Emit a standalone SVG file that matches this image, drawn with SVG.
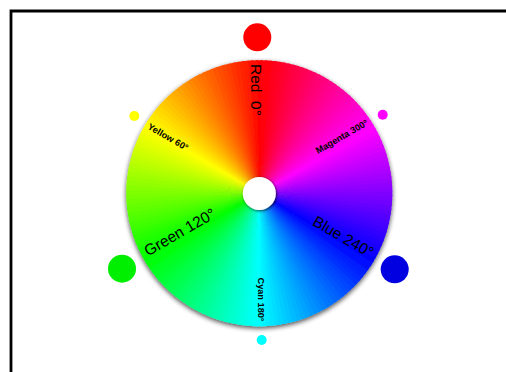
<svg xmlns="http://www.w3.org/2000/svg" width="506" height="372" viewBox="0 0 506 372">
<style>
.lbl{font-family:"Liberation Sans",Arial,sans-serif;fill:#000;white-space:pre}
.big{font-size:15.5px}
.sm{font-size:9.2px;font-weight:bold}
</style>
<defs>
<path id="w" d="M0 0L-3.25 -132.96A133 133 0 0 1 3.25 -132.96Z"/>
<filter id="sh" x="-10%" y="-10%" width="120%" height="125%">
<feGaussianBlur in="SourceAlpha" stdDeviation="2.5"/>
<feOffset dy="1.5"/>
<feComponentTransfer><feFuncA type="linear" slope="0.7"/></feComponentTransfer>
<feMerge><feMergeNode/><feMergeNode in="SourceGraphic"/></feMerge>
</filter>
<filter id="sh2" x="-30%" y="-30%" width="160%" height="160%">
<feGaussianBlur in="SourceAlpha" stdDeviation="1.5"/>
<feOffset dx="0.5" dy="1"/>
<feComponentTransfer><feFuncA type="linear" slope="0.7"/></feComponentTransfer>
<feMerge><feMergeNode/><feMergeNode in="SourceGraphic"/></feMerge>
</filter>
</defs>
<rect x="0" y="0" width="506" height="372" fill="#fff"/>
<path id="frame" d="M11 400V11H540" fill="none" stroke="#000" stroke-width="2.8"/>
<g id="wheel" filter="url(#sh)">
<g transform="translate(259.3,193.2)">
<use href="#w" transform="rotate(0)" fill="#ff0000"/>
<use href="#w" transform="rotate(-2)" fill="#ff0900"/>
<use href="#w" transform="rotate(-4)" fill="#ff1100"/>
<use href="#w" transform="rotate(-6)" fill="#ff1a00"/>
<use href="#w" transform="rotate(-8)" fill="#ff2200"/>
<use href="#w" transform="rotate(-10)" fill="#ff2b00"/>
<use href="#w" transform="rotate(-12)" fill="#ff3300"/>
<use href="#w" transform="rotate(-14)" fill="#ff3c00"/>
<use href="#w" transform="rotate(-16)" fill="#ff4400"/>
<use href="#w" transform="rotate(-18)" fill="#ff4d00"/>
<use href="#w" transform="rotate(-20)" fill="#ff5500"/>
<use href="#w" transform="rotate(-22)" fill="#ff5e00"/>
<use href="#w" transform="rotate(-24)" fill="#ff6600"/>
<use href="#w" transform="rotate(-26)" fill="#ff6f00"/>
<use href="#w" transform="rotate(-28)" fill="#ff7700"/>
<use href="#w" transform="rotate(-30)" fill="#ff8000"/>
<use href="#w" transform="rotate(-32)" fill="#ff8800"/>
<use href="#w" transform="rotate(-34)" fill="#ff9100"/>
<use href="#w" transform="rotate(-36)" fill="#ff9900"/>
<use href="#w" transform="rotate(-38)" fill="#ffa200"/>
<use href="#w" transform="rotate(-40)" fill="#ffaa00"/>
<use href="#w" transform="rotate(-42)" fill="#ffb300"/>
<use href="#w" transform="rotate(-44)" fill="#ffbb00"/>
<use href="#w" transform="rotate(-46)" fill="#ffc400"/>
<use href="#w" transform="rotate(-48)" fill="#ffcc00"/>
<use href="#w" transform="rotate(-50)" fill="#ffd500"/>
<use href="#w" transform="rotate(-52)" fill="#ffdd00"/>
<use href="#w" transform="rotate(-54)" fill="#ffe600"/>
<use href="#w" transform="rotate(-56)" fill="#ffee00"/>
<use href="#w" transform="rotate(-58)" fill="#fff700"/>
<use href="#w" transform="rotate(-60)" fill="#ffff00"/>
<use href="#w" transform="rotate(-62)" fill="#f7ff00"/>
<use href="#w" transform="rotate(-64)" fill="#eeff00"/>
<use href="#w" transform="rotate(-66)" fill="#e6ff00"/>
<use href="#w" transform="rotate(-68)" fill="#ddff00"/>
<use href="#w" transform="rotate(-70)" fill="#d5ff00"/>
<use href="#w" transform="rotate(-72)" fill="#ccff00"/>
<use href="#w" transform="rotate(-74)" fill="#c4ff00"/>
<use href="#w" transform="rotate(-76)" fill="#bbff00"/>
<use href="#w" transform="rotate(-78)" fill="#b3ff00"/>
<use href="#w" transform="rotate(-80)" fill="#aaff00"/>
<use href="#w" transform="rotate(-82)" fill="#a2ff00"/>
<use href="#w" transform="rotate(-84)" fill="#99ff00"/>
<use href="#w" transform="rotate(-86)" fill="#91ff00"/>
<use href="#w" transform="rotate(-88)" fill="#88ff00"/>
<use href="#w" transform="rotate(-90)" fill="#80ff00"/>
<use href="#w" transform="rotate(-92)" fill="#77ff00"/>
<use href="#w" transform="rotate(-94)" fill="#6fff00"/>
<use href="#w" transform="rotate(-96)" fill="#66ff00"/>
<use href="#w" transform="rotate(-98)" fill="#5eff00"/>
<use href="#w" transform="rotate(-100)" fill="#55ff00"/>
<use href="#w" transform="rotate(-102)" fill="#4dff00"/>
<use href="#w" transform="rotate(-104)" fill="#44ff00"/>
<use href="#w" transform="rotate(-106)" fill="#3cff00"/>
<use href="#w" transform="rotate(-108)" fill="#33ff00"/>
<use href="#w" transform="rotate(-110)" fill="#2bff00"/>
<use href="#w" transform="rotate(-112)" fill="#22ff00"/>
<use href="#w" transform="rotate(-114)" fill="#1aff00"/>
<use href="#w" transform="rotate(-116)" fill="#11ff00"/>
<use href="#w" transform="rotate(-118)" fill="#09ff00"/>
<use href="#w" transform="rotate(-120)" fill="#00ff00"/>
<use href="#w" transform="rotate(-122)" fill="#00ff09"/>
<use href="#w" transform="rotate(-124)" fill="#00ff11"/>
<use href="#w" transform="rotate(-126)" fill="#00ff1a"/>
<use href="#w" transform="rotate(-128)" fill="#00ff22"/>
<use href="#w" transform="rotate(-130)" fill="#00ff2b"/>
<use href="#w" transform="rotate(-132)" fill="#00ff33"/>
<use href="#w" transform="rotate(-134)" fill="#00ff3c"/>
<use href="#w" transform="rotate(-136)" fill="#00ff44"/>
<use href="#w" transform="rotate(-138)" fill="#00ff4d"/>
<use href="#w" transform="rotate(-140)" fill="#00ff55"/>
<use href="#w" transform="rotate(-142)" fill="#00ff5e"/>
<use href="#w" transform="rotate(-144)" fill="#00ff66"/>
<use href="#w" transform="rotate(-146)" fill="#00ff6f"/>
<use href="#w" transform="rotate(-148)" fill="#00ff77"/>
<use href="#w" transform="rotate(-150)" fill="#00ff80"/>
<use href="#w" transform="rotate(-152)" fill="#00ff88"/>
<use href="#w" transform="rotate(-154)" fill="#00ff91"/>
<use href="#w" transform="rotate(-156)" fill="#00ff99"/>
<use href="#w" transform="rotate(-158)" fill="#00ffa2"/>
<use href="#w" transform="rotate(-160)" fill="#00ffaa"/>
<use href="#w" transform="rotate(-162)" fill="#00ffb3"/>
<use href="#w" transform="rotate(-164)" fill="#00ffbb"/>
<use href="#w" transform="rotate(-166)" fill="#00ffc4"/>
<use href="#w" transform="rotate(-168)" fill="#00ffcc"/>
<use href="#w" transform="rotate(-170)" fill="#00ffd5"/>
<use href="#w" transform="rotate(-172)" fill="#00ffdd"/>
<use href="#w" transform="rotate(-174)" fill="#00ffe6"/>
<use href="#w" transform="rotate(-176)" fill="#00ffee"/>
<use href="#w" transform="rotate(-178)" fill="#00fff7"/>
<use href="#w" transform="rotate(-180)" fill="#00ffff"/>
<use href="#w" transform="rotate(-182)" fill="#00f7ff"/>
<use href="#w" transform="rotate(-184)" fill="#00eeff"/>
<use href="#w" transform="rotate(-186)" fill="#00e6ff"/>
<use href="#w" transform="rotate(-188)" fill="#00ddff"/>
<use href="#w" transform="rotate(-190)" fill="#00d5ff"/>
<use href="#w" transform="rotate(-192)" fill="#00ccff"/>
<use href="#w" transform="rotate(-194)" fill="#00c4ff"/>
<use href="#w" transform="rotate(-196)" fill="#00bbff"/>
<use href="#w" transform="rotate(-198)" fill="#00b3ff"/>
<use href="#w" transform="rotate(-200)" fill="#00aaff"/>
<use href="#w" transform="rotate(-202)" fill="#00a2ff"/>
<use href="#w" transform="rotate(-204)" fill="#0099ff"/>
<use href="#w" transform="rotate(-206)" fill="#0091ff"/>
<use href="#w" transform="rotate(-208)" fill="#0088ff"/>
<use href="#w" transform="rotate(-210)" fill="#0080ff"/>
<use href="#w" transform="rotate(-212)" fill="#0077ff"/>
<use href="#w" transform="rotate(-214)" fill="#006fff"/>
<use href="#w" transform="rotate(-216)" fill="#0066ff"/>
<use href="#w" transform="rotate(-218)" fill="#005eff"/>
<use href="#w" transform="rotate(-220)" fill="#0055ff"/>
<use href="#w" transform="rotate(-222)" fill="#004dff"/>
<use href="#w" transform="rotate(-224)" fill="#0044ff"/>
<use href="#w" transform="rotate(-226)" fill="#003cff"/>
<use href="#w" transform="rotate(-228)" fill="#0033ff"/>
<use href="#w" transform="rotate(-230)" fill="#002bff"/>
<use href="#w" transform="rotate(-232)" fill="#0022ff"/>
<use href="#w" transform="rotate(-234)" fill="#001aff"/>
<use href="#w" transform="rotate(-236)" fill="#0011ff"/>
<use href="#w" transform="rotate(-238)" fill="#0009ff"/>
<use href="#w" transform="rotate(-240)" fill="#0000ff"/>
<use href="#w" transform="rotate(-242)" fill="#0900ff"/>
<use href="#w" transform="rotate(-244)" fill="#1100ff"/>
<use href="#w" transform="rotate(-246)" fill="#1a00ff"/>
<use href="#w" transform="rotate(-248)" fill="#2200ff"/>
<use href="#w" transform="rotate(-250)" fill="#2b00ff"/>
<use href="#w" transform="rotate(-252)" fill="#3300ff"/>
<use href="#w" transform="rotate(-254)" fill="#3c00ff"/>
<use href="#w" transform="rotate(-256)" fill="#4400ff"/>
<use href="#w" transform="rotate(-258)" fill="#4d00ff"/>
<use href="#w" transform="rotate(-260)" fill="#5500ff"/>
<use href="#w" transform="rotate(-262)" fill="#5e00ff"/>
<use href="#w" transform="rotate(-264)" fill="#6600ff"/>
<use href="#w" transform="rotate(-266)" fill="#6f00ff"/>
<use href="#w" transform="rotate(-268)" fill="#7700ff"/>
<use href="#w" transform="rotate(-270)" fill="#8000ff"/>
<use href="#w" transform="rotate(-272)" fill="#8800ff"/>
<use href="#w" transform="rotate(-274)" fill="#9100ff"/>
<use href="#w" transform="rotate(-276)" fill="#9900ff"/>
<use href="#w" transform="rotate(-278)" fill="#a200ff"/>
<use href="#w" transform="rotate(-280)" fill="#aa00ff"/>
<use href="#w" transform="rotate(-282)" fill="#b300ff"/>
<use href="#w" transform="rotate(-284)" fill="#bb00ff"/>
<use href="#w" transform="rotate(-286)" fill="#c400ff"/>
<use href="#w" transform="rotate(-288)" fill="#cc00ff"/>
<use href="#w" transform="rotate(-290)" fill="#d500ff"/>
<use href="#w" transform="rotate(-292)" fill="#dd00ff"/>
<use href="#w" transform="rotate(-294)" fill="#e600ff"/>
<use href="#w" transform="rotate(-296)" fill="#ee00ff"/>
<use href="#w" transform="rotate(-298)" fill="#f700ff"/>
<use href="#w" transform="rotate(-300)" fill="#ff00ff"/>
<use href="#w" transform="rotate(-302)" fill="#ff00f7"/>
<use href="#w" transform="rotate(-304)" fill="#ff00ee"/>
<use href="#w" transform="rotate(-306)" fill="#ff00e6"/>
<use href="#w" transform="rotate(-308)" fill="#ff00dd"/>
<use href="#w" transform="rotate(-310)" fill="#ff00d5"/>
<use href="#w" transform="rotate(-312)" fill="#ff00cc"/>
<use href="#w" transform="rotate(-314)" fill="#ff00c4"/>
<use href="#w" transform="rotate(-316)" fill="#ff00bb"/>
<use href="#w" transform="rotate(-318)" fill="#ff00b3"/>
<use href="#w" transform="rotate(-320)" fill="#ff00aa"/>
<use href="#w" transform="rotate(-322)" fill="#ff00a2"/>
<use href="#w" transform="rotate(-324)" fill="#ff0099"/>
<use href="#w" transform="rotate(-326)" fill="#ff0091"/>
<use href="#w" transform="rotate(-328)" fill="#ff0088"/>
<use href="#w" transform="rotate(-330)" fill="#ff0080"/>
<use href="#w" transform="rotate(-332)" fill="#ff0077"/>
<use href="#w" transform="rotate(-334)" fill="#ff006f"/>
<use href="#w" transform="rotate(-336)" fill="#ff0066"/>
<use href="#w" transform="rotate(-338)" fill="#ff005e"/>
<use href="#w" transform="rotate(-340)" fill="#ff0055"/>
<use href="#w" transform="rotate(-342)" fill="#ff004d"/>
<use href="#w" transform="rotate(-344)" fill="#ff0044"/>
<use href="#w" transform="rotate(-346)" fill="#ff003c"/>
<use href="#w" transform="rotate(-348)" fill="#ff0033"/>
<use href="#w" transform="rotate(-350)" fill="#ff002b"/>
<use href="#w" transform="rotate(-352)" fill="#ff0022"/>
<use href="#w" transform="rotate(-354)" fill="#ff001a"/>
<use href="#w" transform="rotate(-356)" fill="#ff0011"/>
<use href="#w" transform="rotate(-358)" fill="#ff0009"/>
</g>
</g>
<circle id="hole" cx="259.3" cy="193.4" r="16.5" fill="#fff" filter="url(#sh2)"/>
<g id="dots">
<circle id="dot-red" cx="257.3" cy="37.3" r="14" fill="#ff0000"/>
<circle id="dot-green" cx="122" cy="268.7" r="14" fill="#00ee00"/>
<circle id="dot-blue" cx="394.7" cy="269.3" r="14" fill="#0000e0"/>
<circle id="dot-yellow" cx="134.3" cy="116" r="5" fill="#ffff00"/>
<circle id="dot-magenta" cx="382.7" cy="114.7" r="5" fill="#ff00ff"/>
<circle id="dot-cyan" cx="261.7" cy="340" r="5" fill="#00ffff"/>
</g>
<g id="labels">
<text class="lbl big" transform="translate(250.5,64) rotate(90)">Red  0°</text>
<text class="lbl sm" transform="translate(147,128.5) rotate(30)">Yellow 60°</text>
<text class="lbl big" transform="translate(148,256.5) rotate(-30)">Green 120°</text>
<text class="lbl sm" transform="translate(257.5,277.5) rotate(90)">Cyan 180°</text>
<text class="lbl big" transform="translate(311.5,224.5) rotate(30)">Blue 240°</text>
<text class="lbl sm" transform="translate(318,154) rotate(-30)">Magenta 300°</text>
</g>
</svg>
